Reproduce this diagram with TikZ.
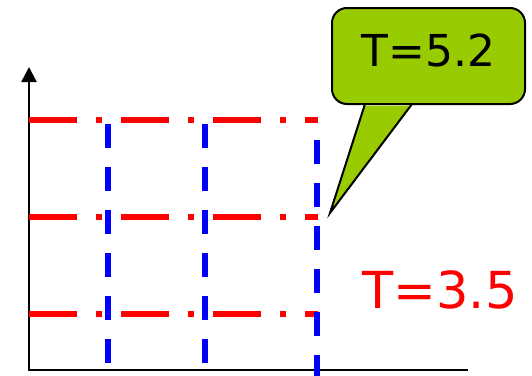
\documentclass[tikz,border=0pt]{standalone}
\usepackage{fontspec}
\setmainfont{DejaVu Sans}
\usetikzlibrary{arrows.meta,positioning}
\definecolor{gridred}{HTML}{FF0000}
\definecolor{gridblue}{HTML}{0000FF}
\definecolor{calloutgreen}{HTML}{99CC00}

\begin{document}
\begin{tikzpicture}[
  x=1pt, y=-1pt,
  axis/.style={line width=2.5pt, draw=black},
  redline/.style={line width=6pt, draw=gridred, dash pattern=on 48pt off 19pt on 6pt off 19pt},
  blueline/.style={line width=6pt, draw=gridblue, dash pattern=on 24pt off 19pt},
  callbox/.style={draw=black, line width=2pt, fill=calloutgreen, rounded corners=15pt,
    minimum width=193pt, minimum height=96pt, inner sep=0pt, text depth=11pt,
    font=\fontsize{44}{44}\selectfont},
  tlabel/.style={text=gridred, inner sep=0pt, font=\fontsize{51}{51}\selectfont}
]
\useasboundingbox (0,0) rectangle (532,375);

% axes
\coordinate (origin) at (29,370);
\coordinate (ytop) at (29,67);
\coordinate (xend) at (468,370);
\draw[axis, -{Triangle[length=15pt,width=15pt]}] (xend) -- (origin) -- (ytop);

% red dash-dot rows
\foreach \yy in {120,217,314}
  \draw[redline] (29,\yy) -- (318,\yy);

% blue dashed columns
\draw[blueline] (108,124) -- (108,363);
\draw[blueline] (205,124) -- (205,363);
\draw[blueline] (317,140) -- (317,380);

% callout
\node[callbox] (callout) at (428.5,56) {T=5.2};
\coordinate (tip) at (330,213);
\coordinate (pl) at (365,104);
\coordinate (pr) at (412,104);
\fill[calloutgreen] ([yshift=-1.5pt]pl) -- (tip) -- ([yshift=-1.5pt]pr) -- cycle;
\draw[line width=2pt, line join=miter] (pl) -- (tip) -- (pr);

\node[tlabel] (tlow) at (440,289.5) {T=3.5};
\end{tikzpicture}
\end{document}
